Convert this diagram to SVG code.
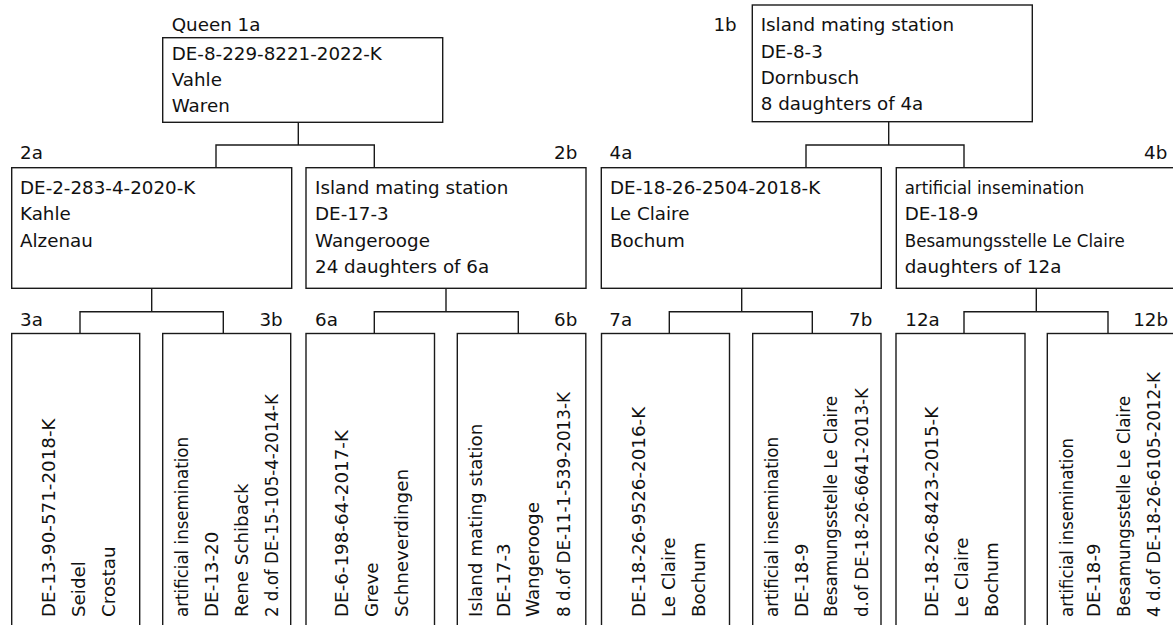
<svg xmlns="http://www.w3.org/2000/svg" width="1173" height="625" viewBox="0 0 1173 625">
<style>
  .box { fill: #ffffff; stroke: #1a1a1a; stroke-width: 1.4; }
  .con { fill: none; stroke: #1a1a1a; stroke-width: 1.4; }
  text { font-family: "DejaVu Sans", "Liberation Sans", sans-serif; font-size: 18.3px; fill: #111111; }
  .end { text-anchor: end; }
</style>
<rect width="1173" height="625" fill="#ffffff"/>

<g id="connectors">
  <path class="con" d="M298.3,122.3 V145 M216,167.7 V145 H374.3 V167.7"/>
  <path class="con" d="M151.7,288.3 V311.7 M80,333.5 V311.7 H223.3 V333.5"/>
  <path class="con" d="M446,288.3 V311.7 M374.3,333.5 V311.7 H518.3 V333.5"/>
  <path class="con" d="M888.7,121.7 V145 M806,167.7 V145 H964 V167.7"/>
  <path class="con" d="M741.7,288.3 V311.7 M669.3,333.5 V311.7 H812.3 V333.5"/>
  <path class="con" d="M1036.3,288.3 V311.7 M964,333.5 V311.7 H1108 V333.5"/>
</g>

<g id="node-1a">
  <text x="171.7" y="31">Queen 1a</text>
  <rect class="box" x="162.7" y="37.7" width="280" height="84.6"/>
  <text x="171.7" y="60">DE-8-229-8221-2022-K</text>
  <text x="171.7" y="85.8">Vahle</text>
  <text x="171.7" y="111.6">Waren</text>
</g>

<g id="node-1b">
  <text x="736.7" y="31.3" class="end">1b</text>
  <rect class="box" x="752.3" y="5" width="280" height="116.7"/>
  <text x="760.7" y="31.3">Island mating station</text>
  <text x="760.7" y="57.6">DE-8-3</text>
  <text x="760.7" y="83.9">Dornbusch</text>
  <text x="760.7" y="110.2">8 daughters of 4a</text>
</g>

<g id="node-2a">
  <text x="20" y="159.3">2a</text>
  <rect class="box" x="11.7" y="167.7" width="280" height="120.6"/>
  <text x="20" y="194">DE-2-283-4-2020-K</text>
  <text x="20" y="220.3">Kahle</text>
  <text x="20" y="246.6">Alzenau</text>
</g>

<g id="node-2b">
  <text x="577.3" y="159.3" class="end">2b</text>
  <rect class="box" x="306" y="167.7" width="280" height="120.6"/>
  <text x="315" y="194">Island mating station</text>
  <text x="315" y="220.3">DE-17-3</text>
  <text x="315" y="246.6">Wangerooge</text>
  <text x="315" y="272.9">24 daughters of 6a</text>
</g>

<g id="node-4a">
  <text x="609.5" y="159.3">4a</text>
  <rect class="box" x="601.3" y="167.7" width="280" height="120.6"/>
  <text x="610" y="194">DE-18-26-2504-2018-K</text>
  <text x="610" y="220.3">Le Claire</text>
  <text x="610" y="246.6">Bochum</text>
</g>

<g id="node-4b">
  <text x="1167.3" y="159.3" class="end">4b</text>
  <rect class="box" x="896.3" y="167.7" width="280" height="120.6"/>
  <text x="904.7" y="194" textLength="179.5" lengthAdjust="spacingAndGlyphs">artificial insemination</text>
  <text x="904.7" y="220.3">DE-18-9</text>
  <text x="904.7" y="246.6" textLength="220" lengthAdjust="spacingAndGlyphs">Besamungsstelle Le Claire</text>
  <text x="904.7" y="272.9">daughters of 12a</text>
</g>

<g id="node-3a">
  <text x="20" y="325.8">3a</text>
  <rect class="box" x="11.7" y="333.5" width="128" height="310"/>
  <text transform="translate(54.5,617) rotate(-90)">DE-13-90-571-2018-K</text>
  <text transform="translate(84.5,617) rotate(-90)">Seidel</text>
  <text transform="translate(114.5,617) rotate(-90)">Crostau</text>
</g>

<g id="node-3b">
  <text x="282.7" y="325.8" class="end">3b</text>
  <rect class="box" x="162.7" y="333.5" width="128" height="310"/>
  <text transform="translate(188.2,617) rotate(-90)" textLength="180" lengthAdjust="spacingAndGlyphs">artificial insemination</text>
  <text transform="translate(218.2,617) rotate(-90)">DE-13-20</text>
  <text transform="translate(247.7,617) rotate(-90)">Rene Schiback</text>
  <text transform="translate(278.2,617) rotate(-90)" textLength="223" lengthAdjust="spacingAndGlyphs">2 d.of DE-15-105-4-2014-K</text>
</g>

<g id="node-6a">
  <text x="315" y="325.8">6a</text>
  <rect class="box" x="306" y="333.5" width="128.5" height="310"/>
  <text transform="translate(348.3,617) rotate(-90)">DE-6-198-64-2017-K</text>
  <text transform="translate(378.3,617) rotate(-90)">Greve</text>
  <text transform="translate(408.3,617) rotate(-90)">Schneverdingen</text>
</g>

<g id="node-6b">
  <text x="577.3" y="325.8" class="end">6b</text>
  <rect class="box" x="457.3" y="333.5" width="128.5" height="310"/>
  <text transform="translate(481.5,617) rotate(-90)">Island mating station</text>
  <text transform="translate(510,617) rotate(-90)">DE-17-3</text>
  <text transform="translate(539.2,617) rotate(-90)">Wangerooge</text>
  <text transform="translate(569.8,617) rotate(-90)" textLength="225" lengthAdjust="spacingAndGlyphs">8 d.of DE-11-1-539-2013-K</text>
</g>

<g id="node-7a">
  <text x="609.3" y="325.8">7a</text>
  <rect class="box" x="601.5" y="333.5" width="128" height="310"/>
  <text transform="translate(644.8,617) rotate(-90)">DE-18-26-9526-2016-K</text>
  <text transform="translate(674.8,617) rotate(-90)">Le Claire</text>
  <text transform="translate(704.8,617) rotate(-90)">Bochum</text>
</g>

<g id="node-7b">
  <text x="872.3" y="325.8" class="end">7b</text>
  <rect class="box" x="752.7" y="333.5" width="128.3" height="310"/>
  <text transform="translate(778.2,617) rotate(-90)" textLength="180" lengthAdjust="spacingAndGlyphs">artificial insemination</text>
  <text transform="translate(808.2,617) rotate(-90)">DE-18-9</text>
  <text transform="translate(837.2,617) rotate(-90)" textLength="221" lengthAdjust="spacingAndGlyphs">Besamungsstelle Le Claire</text>
  <text transform="translate(868.2,617) rotate(-90)" textLength="229" lengthAdjust="spacingAndGlyphs">d.of DE-18-26-6641-2013-K</text>
</g>

<g id="node-12a">
  <text x="905.3" y="325.8">12a</text>
  <rect class="box" x="896" y="333.5" width="129" height="310"/>
  <text transform="translate(938.2,617) rotate(-90)">DE-18-26-8423-2015-K</text>
  <text transform="translate(968.2,617) rotate(-90)">Le Claire</text>
  <text transform="translate(998.2,617) rotate(-90)">Bochum</text>
</g>

<g id="node-12b">
  <text x="1168" y="325.8" class="end">12b</text>
  <rect class="box" x="1047.3" y="333.5" width="129" height="310"/>
  <text transform="translate(1073.2,617) rotate(-90)" textLength="179" lengthAdjust="spacingAndGlyphs">artificial insemination</text>
  <text transform="translate(1099.8,617) rotate(-90)">DE-18-9</text>
  <text transform="translate(1129.8,617) rotate(-90)" textLength="221" lengthAdjust="spacingAndGlyphs">Besamungsstelle Le Claire</text>
  <text transform="translate(1159.8,617) rotate(-90)" textLength="245" lengthAdjust="spacingAndGlyphs">4 d.of DE-18-26-6105-2012-K</text>
</g>
</svg>
